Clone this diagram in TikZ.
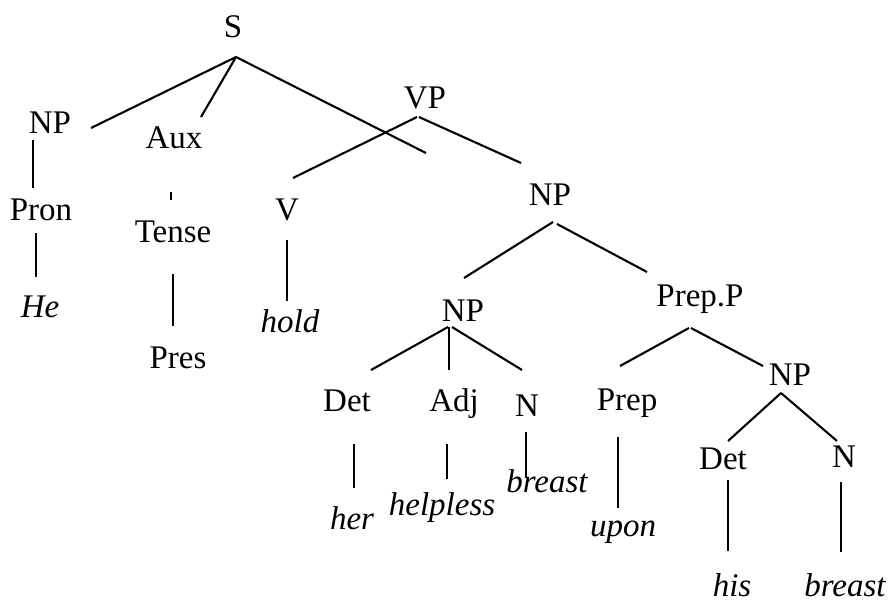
\documentclass[tikz,border=0pt]{standalone}
\usepackage{fontspec}
\setmainfont{Liberation Serif}
\begin{document}
\begin{tikzpicture}[x=1pt,y=-1pt,
  lab/.style={inner sep=0pt,anchor=base,font=\fontsize{33}{38}\selectfont},
  word/.style={lab,font=\fontsize{33}{38}\selectfont\itshape},
  branch/.style={line width=2.1pt,line cap=butt}]
\useasboundingbox[fill=white] (0,0) rectangle (891,603);
% labels
\node[lab] (S) at (233,37) {S};
\node[lab] (NPa) at (50,133) {NP};
\node[lab] (Aux) at (174,148) {Aux};
\node[lab] (VP) at (425,108) {VP};
\node[lab] (Pron) at (41,220) {Pron};
\node[lab] (Tense) at (173,242) {Tense};
\node[lab] (V) at (287,220) {V};
\node[word] (He) at (40,317) {He};
\node[lab] (Pres) at (178,368) {Pres};
\node[word] (hold) at (290,332) {hold};
\node[lab] (NPb) at (550,205) {NP};
\node[lab] (NPc) at (463,321) {NP};
\node[lab] (PrepP) at (700,306) {Prep.P};
\node[lab] (Det1) at (347,411) {Det};
\node[lab] (Adj) at (454,411) {Adj};
\node[lab] (N1) at (527,416) {N};
\node[word] (her) at (352,529) {her};
\node[word] (helpless) at (442,515) {helpless};
\node[word] (breast1) at (547,492) {breast};
\node[lab] (Prep) at (627,410) {Prep};
\node[lab] (NPd) at (790,385) {NP};
\node[word] (upon) at (623,536) {upon};
\node[lab] (Det2) at (723,469) {Det};
\node[lab] (N2) at (844,467) {N};
\node[word] (his) at (732,596) {his};
\node[word] (breast2) at (845,596) {breast};
% connector end points
\coordinate (S-b) at (236,57);
\coordinate (NPa-t) at (91,128);
\coordinate (Aux-t) at (201,117);
\coordinate (VP-t) at (426,153);
\coordinate (VP-bl) at (417,117);
\coordinate (VP-br) at (419,117);
\coordinate (V-t) at (293,178);
\coordinate (NPb-t) at (521,163);
\coordinate (NPa-b) at (33,140);
\coordinate (Pron-t) at (33,188);
\coordinate (Aux-b) at (171,192);
\coordinate (Tense-t) at (171,200);
\coordinate (Pron-b) at (36,233);
\coordinate (He-t) at (36,277);
\coordinate (Tense-b) at (173,274);
\coordinate (Pres-t) at (173,326);
\coordinate (V-b) at (287,240);
\coordinate (hold-t) at (287,301);
\coordinate (NPb-bl) at (553,222);
\coordinate (NPb-br) at (557,224);
\coordinate (NPc-t) at (464,278);
\coordinate (PrepP-t) at (647,272);
\coordinate (NPc-bl) at (448,327);
\coordinate (NPc-bm) at (449,327);
\coordinate (NPc-br) at (452,327);
\coordinate (Det1-t) at (371,370);
\coordinate (Adj-t) at (449,370);
\coordinate (N1-t) at (522,370);
\coordinate (Det1-b) at (354,444);
\coordinate (her-t) at (354,488);
\coordinate (Adj-b) at (447,444);
\coordinate (helpless-t) at (447,479);
\coordinate (N1-b) at (526,432);
\coordinate (breast1-t) at (526,478);
\coordinate (PrepP-bl) at (689,328);
\coordinate (PrepP-br) at (691,328);
\coordinate (Prep-t) at (620,366);
\coordinate (NPd-t) at (763,366);
\coordinate (NPd-b) at (781,393);
\coordinate (Det2-t) at (728,441);
\coordinate (N2-t) at (837,441);
\coordinate (Prep-b) at (618,437);
\coordinate (upon-t) at (618,508);
\coordinate (Det2-b) at (728,480);
\coordinate (his-t) at (728,551);
\coordinate (N2-b) at (841,482);
\coordinate (breast2-t) at (841,552);
% connectors
\draw[branch] (S-b) -- (NPa-t);
\draw[branch] (S-b) -- (Aux-t);
\draw[branch] (S-b) -- (VP-t);
\draw[branch] (VP-bl) -- (V-t);
\draw[branch] (VP-br) -- (NPb-t);
\draw[branch] (NPa-b) -- (Pron-t);
\draw[branch] (Aux-b) -- (Tense-t);
\draw[branch] (Pron-b) -- (He-t);
\draw[branch] (Tense-b) -- (Pres-t);
\draw[branch] (V-b) -- (hold-t);
\draw[branch] (NPb-bl) -- (NPc-t);
\draw[branch] (NPb-br) -- (PrepP-t);
\draw[branch] (NPc-bl) -- (Det1-t);
\draw[branch] (NPc-bm) -- (Adj-t);
\draw[branch] (NPc-br) -- (N1-t);
\draw[branch] (Det1-b) -- (her-t);
\draw[branch] (Adj-b) -- (helpless-t);
\draw[branch] (N1-b) -- (breast1-t);
\draw[branch] (PrepP-bl) -- (Prep-t);
\draw[branch] (PrepP-br) -- (NPd-t);
\draw[branch] (NPd-b) -- (Det2-t);
\draw[branch] (NPd-b) -- (N2-t);
\draw[branch] (Prep-b) -- (upon-t);
\draw[branch] (Det2-b) -- (his-t);
\draw[branch] (N2-b) -- (breast2-t);
\end{tikzpicture}
\end{document}
